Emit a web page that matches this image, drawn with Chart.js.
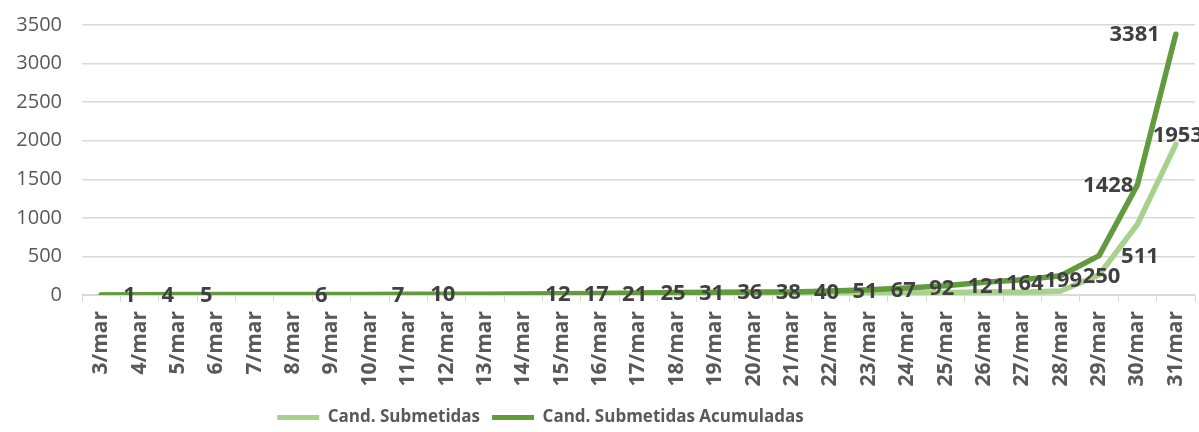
<!DOCTYPE html>
<html>
<head>
<meta charset="utf-8">
<script src="https://cdn.jsdelivr.net/npm/chart.js@4"></script>
<style>
	html, body { margin: 0; padding: 0; background: #fff; }
	#wrap { width: 1199px; height: 432px; }
</style>
</head>
<body>
<div id="wrap"><canvas id="myChart"></canvas></div>
<script>
const days = ['3/mar', '4/mar', '5/mar', '6/mar', '7/mar', '8/mar', '9/mar', '10/mar', '11/mar', '12/mar',
	'13/mar', '14/mar', '15/mar', '16/mar', '17/mar', '18/mar', '19/mar', '20/mar', '21/mar', '22/mar',
	'23/mar', '24/mar', '25/mar', '26/mar', '27/mar', '28/mar', '29/mar', '30/mar', '31/mar'];
const submetidas = [1, 3, 1, 0, 0, 1, 0, 1, 3, 0, 0, 2, 5, 4, 4, 6, 5, 2, 2, 11, 16, 25, 29, 43, 35, 51, 261, 917, 1953];
const acumuladas = [1, 4, 5, 5, 5, 6, 6, 7, 10, 10, 10, 12, 17, 21, 25, 31, 36, 38, 40, 51, 67, 92, 121, 164, 199, 250, 511, 1428, 3381];
const yTicks = [0, 500, 1000, 1500, 2000, 2500, 3000, 3500];

const lightGreen = '#a9d18e';
const darkGreen = '#629b3d';
const fontFamily = '"Open Sans", sans-serif';

// data labels, drawn next to the points the scales give us
const valueLabels = {
	id: 'valueLabels',
	afterLayout(chart) {
		// legend sits a bit left of centre and lower in the original
		chart.legend.left -= 57;
		chart.legend.right -= 57;
		chart.legend.top += 4;
		chart.legend.bottom += 4;
	},
	afterDatasetsDraw(chart) {
		const ctx = chart.ctx;
		ctx.save();
		ctx.font = `bold 22px ${fontFamily}`;
		ctx.fillStyle = '#404040';

		// accumulated: label only where the total changed
		let meta = chart.getDatasetMeta(1);
		let last = acumuladas.length - 1;
		acumuladas.forEach((v, i) => {
			if (i > 0 && v == acumuladas[i - 1]) return;
			let pt = meta.data[i];
			ctx.textBaseline = 'middle';
			if (i >= last - 1) {
				ctx.textAlign = 'right';
				ctx.fillText(v, pt.x - (i == last ? 16 : 4), pt.y + 1);
			} else {
				ctx.textAlign = 'left';
				ctx.fillText(v, pt.x + 22, pt.y + 1);
			}
		});

		// daily: only the last value, above the point
		meta = chart.getDatasetMeta(0);
		let pt = meta.data[submetidas.length - 1];
		ctx.textAlign = 'center';
		ctx.textBaseline = 'bottom';
		ctx.fillText(submetidas[submetidas.length - 1], pt.x + 2, pt.y + 2);

		ctx.restore();
	},
};

const chart = new Chart(document.getElementById('myChart'), {
	type: 'line',
	data: {
		labels: days,
		datasets: [
			{
				label: 'Cand. Submetidas',
				data: submetidas,
				borderColor: lightGreen,
				backgroundColor: lightGreen,
				borderWidth: 5.5,
				pointRadius: 0,
				tension: 0,
				borderCapStyle: 'round',
				borderJoinStyle: 'round',
				order: 1,
			},
			{
				label: 'Cand. Submetidas Acumuladas',
				data: acumuladas,
				borderColor: darkGreen,
				backgroundColor: darkGreen,
				borderWidth: 5.5,
				pointRadius: 0,
				tension: 0,
				borderCapStyle: 'round',
				borderJoinStyle: 'round',
				order: 0,
			},
		],
	},
	options: {
		responsive: true,
		maintainAspectRatio: false,
		animation: false,
		layout: {
			padding: { top: 25, right: 4, left: 0, bottom: 0 },
		},
		scales: {
			x: {
				offset: true,
				afterFit: (axis) => {
					axis.height = 98;
					axis.paddingLeft = 0;
					axis.paddingRight = 0;
				},
				grid: {
					offset: true,
					drawOnChartArea: false,
					drawTicks: true,
					tickLength: 7,
					color: '#d9d9d9',
				},
				border: { color: '#d9d9d9' },
				ticks: {
					autoSkip: false,
					minRotation: 90,
					maxRotation: 90,
					padding: 9,
					color: '#595959',
					font: { family: fontFamily, size: 21, weight: 'bold' },
				},
			},
			y: {
				min: 0,
				max: 3500,
				afterBuildTicks: (axis) => {
					axis.ticks = yTicks.map((v) => ({ value: v }));
				},
				afterFit: (axis) => {
					axis.width = 82;
					axis.paddingTop = 0;
					axis.paddingBottom = 0;
				},
				grid: {
					color: '#d9d9d9',
					drawTicks: false,
					lineWidth: 1.5,
				},
				border: { display: false },
				ticks: {
					padding: 20,
					color: '#595959',
					font: { family: fontFamily, size: 20 },
					callback: (v) => String(v),
				},
			},
		},
		plugins: {
			legend: {
				position: 'bottom',
				labels: {
					boxWidth: 42,
					boxHeight: 5,
					padding: 12,
					color: '#595959',
					font: { family: fontFamily, size: 17, weight: 'bold' },
					sort: (a, b) => a.datasetIndex - b.datasetIndex,
					generateLabels: (chart) => {
						let items = Chart.defaults.plugins.legend.labels.generateLabels(chart);
						items.forEach((item) => (item.lineWidth = 0));
						return items;
					},
				},
			},
			tooltip: { enabled: false },
		},
	},
	plugins: [valueLabels],
});
</script>
</body>
</html>
